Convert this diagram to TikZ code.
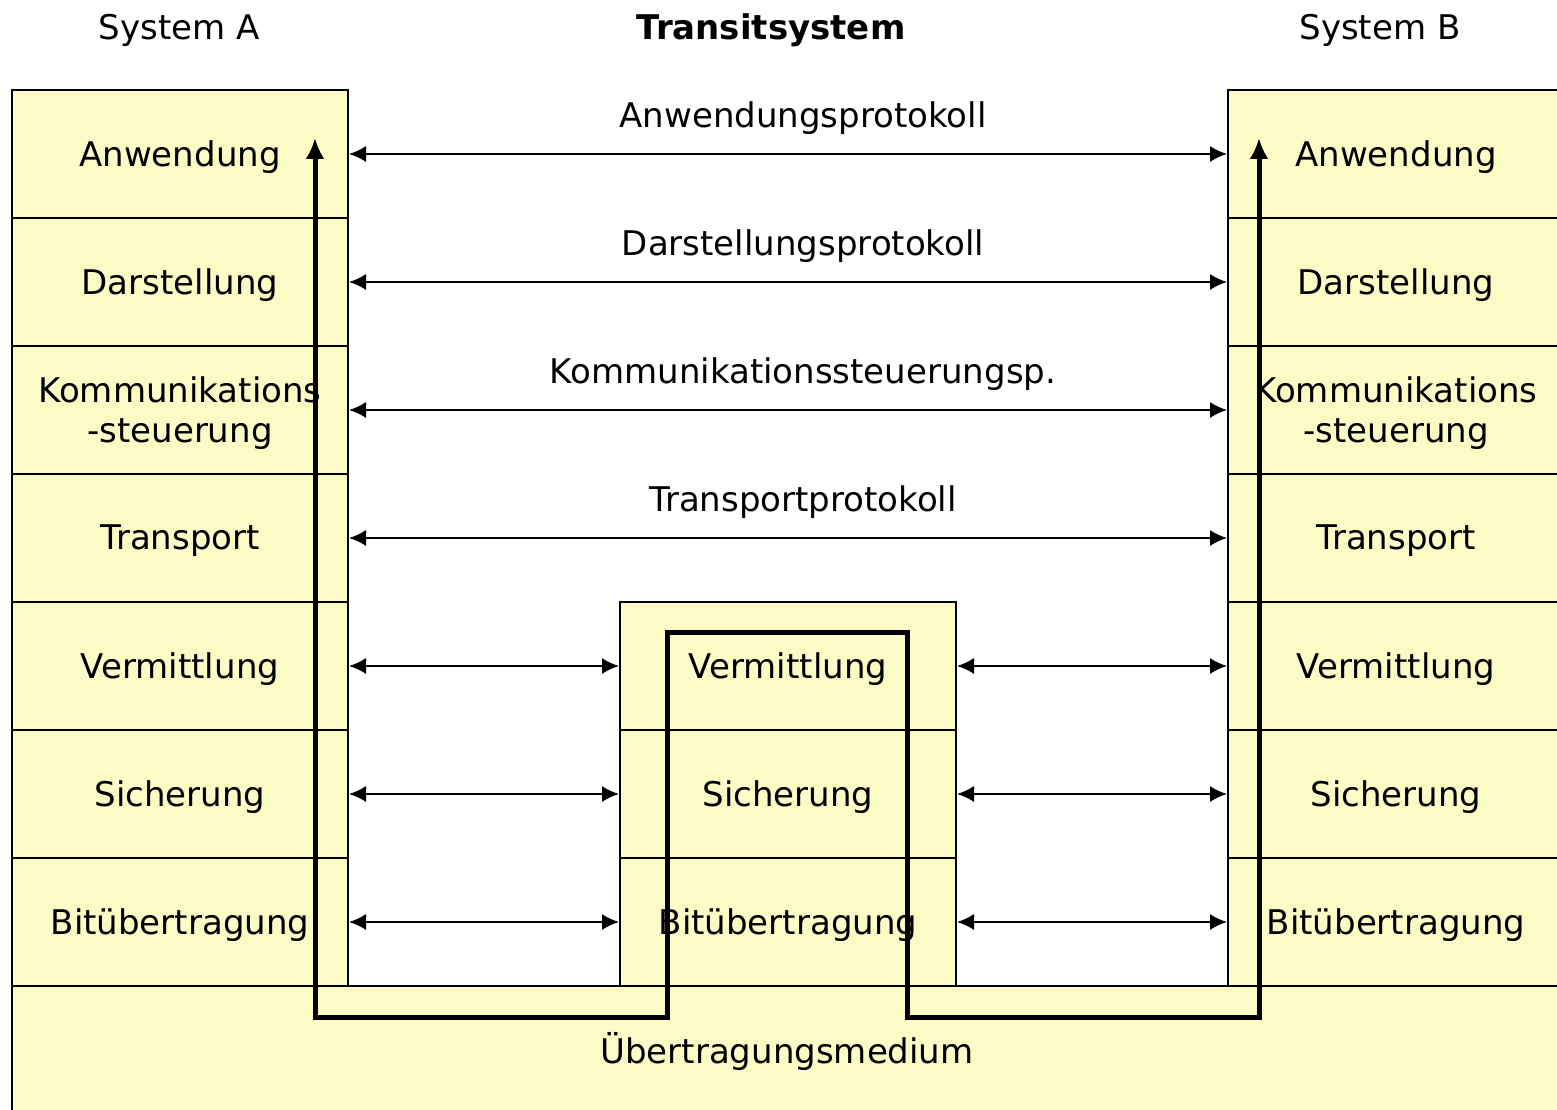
\documentclass[tikz,border=0pt]{standalone}
\usepackage{fontspec}
\setmainfont{DejaVu Sans}
\usetikzlibrary{arrows.meta}
\definecolor{layerfill}{RGB}{252,251,197}
\begin{document}
\begin{tikzpicture}[x=1pt,y=-1pt,
  every node/.style={font=\fontsize{34}{40}\selectfont},
  layer/.style={draw=black, line width=2pt, fill=layerfill, minimum width=336pt,
    minimum height=128pt, inner sep=0pt, anchor=north west,
    label={[align=center, yshift=-3pt]center:#1}},
  proto/.style={line width=1.8pt, {Latex[length=17pt,width=16pt]}-{Latex[length=17pt,width=16pt]}},
  flow/.style={line width=5pt, {Latex[length=21pt,width=19pt]}-{Latex[length=21pt,width=19pt]}},
  plabel/.style={midway, above=15pt, xshift=15pt},
  title/.style={anchor=center}]
\useasboundingbox (0,0) rectangle (1557,1110);
\clip (0,0) rectangle (1557,1110);

% headings
\node[title] (ta) at (179,30) {System A};
\node[title] (tt) at (771,30) {\bfseries Transitsystem};
\node[title] (tb) at (1380,30) {System B};

% transmission medium
\node[draw=black, line width=2pt, fill=layerfill, minimum width=1552pt, minimum height=140pt,
      anchor=north west] (med) at (11,985) {};
\node (medlbl) at (787,1052) {Übertragungsmedium};

% end system stacks
\foreach \i/\t in {1/Anwendung, 2/Darstellung, 3/{Kommunikations\\-steuerung},
                   4/Transport, 5/Vermittlung, 6/Sicherung, 7/Bitübertragung} {
  \node[layer={\t}] (a\i) at (11,{89+128*(\i-1)}) {};
  \node[layer={\t}] (b\i) at (1227,{89+128*(\i-1)}) {};
}

% transit system stack
\node[layer=Vermittlung] (m5) at (619,601) {};
\node[layer=Sicherung] (m6) at (619,729) {};
\node[layer=Bitübertragung] (m7) at (619,857) {};

% end-to-end protocols
\draw[proto] (a1.east) -- (b1.west) node[plabel] (p1) {Anwendungsprotokoll};
\draw[proto] (a2.east) -- (b2.west) node[plabel] (p2) {Darstellungsprotokoll};
\draw[proto] (a3.east) -- (b3.west) node[plabel] (p3) {Kommunikationssteuerungsp.};
\draw[proto] (a4.east) -- (b4.west) node[plabel] (p4) {Transportprotokoll};

% hop-by-hop protocols
\foreach \i in {5,6,7} {
  \draw[proto] (a\i.east) -- (m\i.west);
  \draw[proto] (m\i.east) -- (b\i.west);
}

% data path through the systems
\coordinate (sa) at (315,138);
\coordinate (sb) at (1259,138);
\coordinate (d1) at (315,1017);
\coordinate (d2) at (667,1017);
\coordinate (d3) at (667,632);
\coordinate (d4) at (907,632);
\coordinate (d5) at (907,1017);
\coordinate (d6) at (1259,1017);
\draw[flow] (sa) -- (d1) -- (d2) -- (d3) -- (d4) -- (d5) -- (d6) -- (sb);
\end{tikzpicture}
\end{document}
